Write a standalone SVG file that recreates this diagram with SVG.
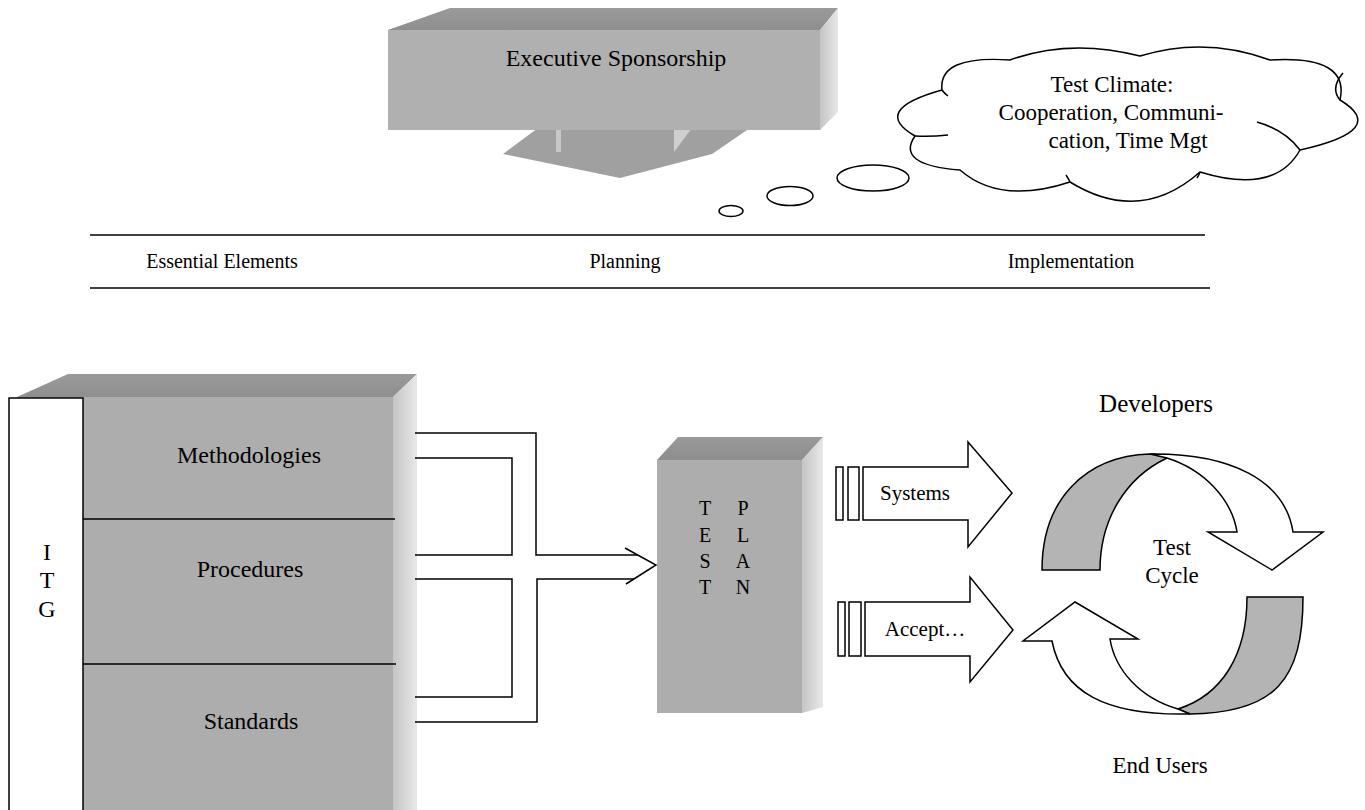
<svg xmlns="http://www.w3.org/2000/svg" width="1365" height="810" viewBox="0 0 1365 810" font-family="'Liberation Serif', 'DejaVu Serif', serif">
<style>
text{font-family:'Liberation Serif','DejaVu Serif',serif;fill:#000}
.ln{stroke:#000;stroke-width:1.5;fill:none}
.wf{stroke:#000;stroke-width:1.5;fill:#fff;stroke-linejoin:miter}
.gf{stroke:#000;stroke-width:1.5;fill:#b4b4b4}
.front{fill:#adadad}
</style>
<defs>
<linearGradient id="topg" x1="0" y1="0" x2="0" y2="1">
<stop offset="0" stop-color="#9a9a9a"/><stop offset="1" stop-color="#8e8e8e"/>
</linearGradient>
<linearGradient id="sideg" x1="0" y1="0" x2="1" y2="0">
<stop offset="0" stop-color="#c4c4c4"/><stop offset="1" stop-color="#e8e8e8"/>
</linearGradient>
</defs>
<rect width="1365" height="810" fill="#fff"/>

<g id="executive-sponsorship">
<polygon points="538,128 503,154 620,178 712,154 750,128" fill="#a0a0a0"/>
<polygon points="556,128 561,128 561,152 556,152" fill="#c8c8c8"/>
<polygon points="674,128 692,128 674,152" fill="#cfcfcf"/>
<polygon points="388,30 450,8 838,8 820,30" fill="url(#topg)"/>
<polygon points="820,30 838,8 838,112 820,130" fill="url(#sideg)"/>
<rect x="388" y="30" width="432" height="100" fill="#b0b0b0"/>
<text x="616" y="66" font-size="24" text-anchor="middle" font-family="'Liberation Serif', serif">Executive Sponsorship</text>
</g>

<g id="test-climate" font-family="'Liberation Serif', serif">
<ellipse cx="731" cy="211" rx="12" ry="5.5" class="ln"/>
<ellipse cx="790" cy="196" rx="23" ry="9.5" class="ln"/>
<ellipse cx="873" cy="178" rx="36" ry="13" class="ln"/>
<path class="wf" d="M942,90 Q938,55 1010,60 Q1070,38 1140,56 Q1205,36 1270,60 Q1350,55 1340,100 Q1390,130 1300,150 Q1275,195 1200,172 Q1140,225 1070,182 Q1000,205 960,170 Q895,165 915,136 Q870,110 942,90 Z"/>
<path class="ln" d="M942,90 Q944,93 948,96 M915,136 Q930,137 948,135 M1070,182 Q1068,178 1066,175 M1200,172 Q1199,175 1197,178 M1300,150 Q1285,130 1257,122 M1340,100 Q1330,88 1343,73"/>
<text x="1112" y="92" font-size="23" text-anchor="middle">Test Climate:</text>
<text x="1111" y="120" font-size="23" text-anchor="middle">Cooperation, Communi-</text>
<text x="1128" y="148" font-size="23" text-anchor="middle">cation, Time Mgt</text>
</g>

<g id="phases" font-family="'Liberation Serif', serif">
<line x1="90" y1="235" x2="1205" y2="235" stroke="#000" stroke-width="1.5"/>
<line x1="90" y1="288" x2="1210" y2="288" stroke="#000" stroke-width="1.5"/>
<text x="222" y="268" font-size="20" text-anchor="middle">Essential Elements</text>
<text x="625" y="268" font-size="20" text-anchor="middle">Planning</text>
<text x="1071" y="268" font-size="20" text-anchor="middle">Implementation</text>
</g>

<g id="essential-elements" font-family="'Liberation Serif', serif">
<polygon points="17,397 68,374 417,374 393,397" fill="url(#topg)"/>
<polygon points="393,397 417,374 417,810 393,810" fill="url(#sideg)"/>
<rect x="17" y="397" width="376" height="413" class="front"/>
<line x1="83" y1="519" x2="395" y2="519" stroke="#000" stroke-width="1.5"/>
<line x1="83" y1="664" x2="396" y2="664" stroke="#000" stroke-width="1.5"/>
<text x="249" y="463" font-size="24" text-anchor="middle">Methodologies</text>
<text x="250" y="577" font-size="24" text-anchor="middle">Procedures</text>
<text x="251" y="729" font-size="24" text-anchor="middle">Standards</text>
</g>

<g id="itg" font-family="'Liberation Serif', serif">
<rect x="9" y="398" width="74" height="420" fill="#fff" stroke="#000" stroke-width="1.5"/>
<text x="47" y="560" font-size="24" text-anchor="middle">I</text>
<text x="47" y="588" font-size="24" text-anchor="middle">T</text>
<text x="47" y="617" font-size="24" text-anchor="middle">G</text>
</g>

<g id="test-plan" font-family="'Liberation Serif', serif">
<polygon points="657,460 678,437 823,437 802,460" fill="url(#topg)"/>
<polygon points="802,460 823,437 823,707 802,713" fill="url(#sideg)"/>
<rect x="657" y="460" width="145" height="253" class="front"/>
<g font-size="20" text-anchor="middle">
<text x="705" y="515">T</text><text x="705" y="542">E</text><text x="705" y="568">S</text><text x="705" y="594">T</text>
<text x="743" y="515">P</text><text x="743" y="542">L</text><text x="743" y="568">A</text><text x="743" y="594">N</text>
</g>
</g>

<g id="connectors">
<path class="ln" d="M415,433 H536 V555 H638"/>
<path class="ln" d="M415,458 H512 V555 H415"/>
<path class="ln" d="M415,579 H512 V697 H415"/>
<path class="ln" d="M415,722 H537 V579 H634"/>
<polyline class="ln" points="625,548 656,565 626,584"/>
</g>

<g id="systems" font-family="'Liberation Serif', serif">
<rect x="836" y="467" width="7" height="53" class="wf"/>
<rect x="848" y="467" width="11" height="53" class="wf"/>
<polygon class="wf" points="863,467 968,467 968,442 1012,493 968,547 968,520 863,520"/>
<text x="915" y="500" font-size="21" text-anchor="middle">Systems</text>
</g>

<g id="accept" font-family="'Liberation Serif', serif">
<rect x="838" y="602" width="7" height="54" class="wf"/>
<rect x="849" y="602" width="12" height="54" class="wf"/>
<polygon class="wf" points="865,602 970,602 970,577 1013,630 970,682 970,656 865,656"/>
<text x="925" y="636" font-size="21" text-anchor="middle">Accept…</text>
</g>

<g id="test-cycle" font-family="'Liberation Serif', serif">
<path class="gf" d="M1042,570 C1042,500 1085,456 1150,454 C1158,454 1163,456 1167,458 C1125,478 1100,520 1100,570 Z"/>
<path class="wf" d="M1150,454 C1230,453 1285,480 1293,532 L1323,532 L1272,570 L1208,532 L1237,532 C1232,500 1205,470 1167,458 Z"/>
<path class="gf" d="M1178,709 C1222,695 1247,655 1247,597 L1303,597 C1303,680 1275,713 1190,714 Z"/>
<path class="wf" d="M1110,639 L1138,639 L1075,602 L1023,641 L1052,641 C1062,692 1105,716 1190,714 L1178,709 C1140,698 1115,670 1110,639 Z"/>
<text x="1172" y="555" font-size="23" text-anchor="middle">Test</text>
<text x="1172" y="583" font-size="23" text-anchor="middle">Cycle</text>
</g>

<g id="developers" font-family="'Liberation Serif', serif"><text x="1156" y="412" font-size="25" text-anchor="middle">Developers</text></g>
<g id="end-users" font-family="'Liberation Serif', serif"><text x="1160" y="773" font-size="23" text-anchor="middle">End Users</text></g>
</svg>
